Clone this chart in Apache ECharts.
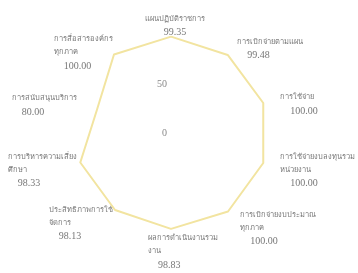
<!DOCTYPE html>
<html>
<head>
<meta charset="utf-8">
<script src="https://cdn.jsdelivr.net/npm/echarts@6/dist/echarts.min.js"></script>
<style>
  html, body { margin: 0; padding: 0; background: #fff; }
  #chart { width: 358px; height: 273px; }
</style>
</head>
<body>
<div id="chart"></div>
<script>
// ชื่อตัวชี้วัด เรียงตามเข็มนาฬิกาจากด้านบน (อ่านจากภาพ ประมาณเอา)
var indicatorNames = [
  'แผนปฏิบัติราชการ',
  'การเบิกจ่ายตามแผน',
  'การใช้จ่าย',
  'การใช้จ่ายงบลงทุนรวม\nหน่วยงาน',
  'การเบิกจ่ายงบประมาณ\nทุกภาค',
  'ผลการดำเนินงานรวม\nงาน',
  'ประสิทธิภาพการใช้\nจัดการ',
  'การบริหารความเสี่ยง\nศึกษา',
  'การสนับสนุนบริการ',
  'การสื่อสารองค์กร\nทุกภาค'
];
var scores = [99.35, 99.48, 100.00, 100.00, 100.00, 98.83, 98.13, 98.33, 80.00, 100.00];
var axisMax = 100;
var axisTicks = [0, 50]; // ตัวเลขบนแกน

// ระยะเว้นบน/ล่าง/ซ้ายของป้ายชื่อ (px) ตามลำดับตัวชี้วัด
var padTop    = [0, 0, 4, 14, 30, 0, 20, 14, 6, 0];
var padBottom = [0, 8, 0, 0, 0, 0, 0, 0, 0, 0];
var padLeft   = [8, 8, 15, 15, 11, 24, 0, 0, 0, 0];

var chart = echarts.init(document.getElementById('chart'));

// echarts วาด radar ทวนเข็มนาฬิกา -> กลับลำดับ (ยกเว้นตัวแรก)
var order = [0];
for (var k = indicatorNames.length - 1; k > 0; k--) order.push(k);

var indicators = order.map(function (i) {
  return { name: i + '', max: axisMax, min: 0 };
});
var values = order.map(function (i) { return scores[i]; });

var font = 'Liberation Serif, Noto Sans, sans-serif';
var rich = {};
indicatorNames.forEach(function (n, i) {
  var top = i === 0;
  rich['t' + i] = { fontSize: 1, lineHeight: padTop[i] };
  rich['e' + i] = { fontSize: 1, lineHeight: padBottom[i] };
  rich['a' + i] = { fontSize: 7.5, lineHeight: top ? 22 : 13, color: '#777', fontFamily: font,
    align: top ? 'center' : 'left', padding: [0, 0, 0, padLeft[i]] };
  rich['c' + i] = { fontSize: 10, lineHeight: top ? 4 : 14, color: '#777', fontFamily: 'Liberation Serif',
    align: top ? 'center' : 'left', padding: [0, 0, 0, padLeft[i] + (top ? 0 : 10)] };
});

chart.setOption({
  animation: false,
  textStyle: { fontFamily: font },
  polar: { center: [171, 133], radius: 97 },
  angleAxis: { show: false, startAngle: 90, min: 0, max: 360 },
  radiusAxis: {
    min: axisTicks[0],
    max: axisMax,
    interval: axisTicks[1] - axisTicks[0],
    axisLine: { show: false },
    axisTick: { show: false },
    splitLine: { show: false },
    axisLabel: {
      color: '#888',
      fontSize: 10,
      margin: 4,
      showMaxLabel: false,
      fontFamily: 'Liberation Serif'
    }
  },
  radar: {
    center: [171, 133],
    radius: 97,
    startAngle: 90,
    splitNumber: 2,
    indicator: indicators,
    nameGap: 2,
    axisName: {
      color: '#777',
      formatter: function (n) {
        var i = +n;
        var lines = indicatorNames[i].split('\n').map(function (t) {
          return '{a' + i + '|' + t + '}';
        });
        lines.push('{c' + i + '|' + scores[i].toFixed(2) + '}');
        if (padTop[i]) lines.unshift('{t' + i + '| }');
        if (padBottom[i]) lines.push('{e' + i + '| }');
        return lines.join('\n');
      },
      rich: rich
    },
    axisLine: { show: false },
    splitLine: { show: false },
    splitArea: { show: false },
    axisTick: { show: false },
    axisLabel: { show: false }
  },
  series: [{
    type: 'radar',
    symbol: 'none',
    lineStyle: { color: '#f2e4a0', width: 2 },
    data: [{ value: values, name: 'คะแนน' }]
  }]
});
</script>
</body>
</html>
